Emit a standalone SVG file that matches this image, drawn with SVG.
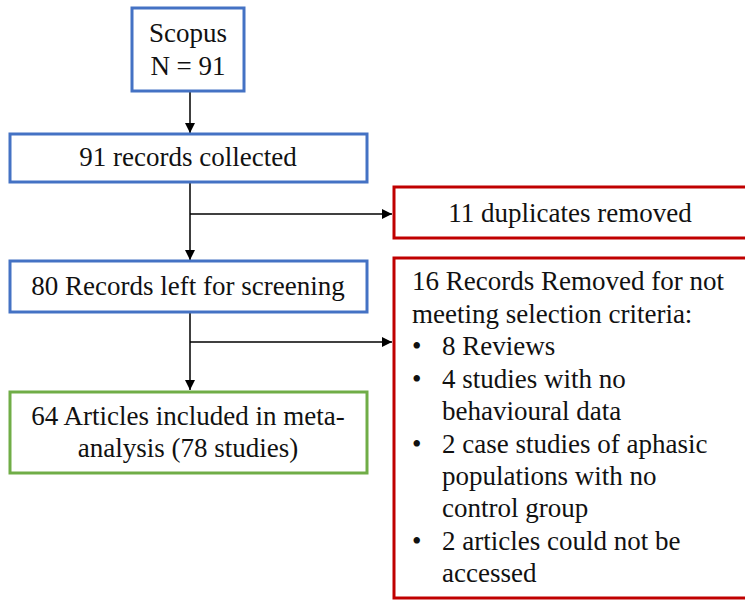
<svg xmlns="http://www.w3.org/2000/svg" width="745" height="601" viewBox="0 0 745 601">
<defs>
<marker id="ah" viewBox="0 0 10 10" refX="10" refY="5" markerWidth="10" markerHeight="10" markerUnits="userSpaceOnUse" orient="auto">
<path d="M0,0 L10,5 L0,10 z" fill="#000"/>
</marker>
<style>
.blue{fill:#fff;stroke:#4472C4;stroke-width:3}
.red{fill:#fff;stroke:#C00000;stroke-width:3}
.green{fill:#fff;stroke:#70AD47;stroke-width:3}
.conn{stroke:#000;stroke-width:1.5;fill:none}
</style>
</defs>
<rect width="745" height="601" fill="#fff"/>
<g id="connectors">
<path class="conn" d="M190,91 V133" marker-end="url(#ah)"/>
<path class="conn" d="M190,182 V260" marker-end="url(#ah)"/>
<path class="conn" d="M190,214 H392" marker-end="url(#ah)"/>
<path class="conn" d="M190,312 V390" marker-end="url(#ah)"/>
<path class="conn" d="M190,342 H392" marker-end="url(#ah)"/>
</g>
<g id="scopus">
<rect class="blue" x="132" y="8" width="112" height="83"/>
<text font-family="Times New Roman, Liberation Serif, serif" font-size="27" fill="#111" text-anchor="middle" x="188" y="42">Scopus</text>
<text font-family="Times New Roman, Liberation Serif, serif" font-size="27" fill="#111" text-anchor="middle" x="188" y="75">N = 91</text>
</g>
<g id="collected">
<rect class="blue" x="10" y="134" width="357" height="48"/>
<text font-family="Times New Roman, Liberation Serif, serif" font-size="27" fill="#111" text-anchor="middle" x="188" y="166">91 records collected</text>
</g>
<g id="duplicates">
<rect class="red" x="394" y="187" width="354" height="51"/>
<text font-family="Times New Roman, Liberation Serif, serif" font-size="27" fill="#111" text-anchor="middle" x="570" y="222">11 duplicates removed</text>
</g>
<g id="screening">
<rect class="blue" x="10" y="261" width="357" height="51"/>
<text font-family="Times New Roman, Liberation Serif, serif" font-size="27" fill="#111" text-anchor="middle" x="188" y="295">80 Records left for screening</text>
</g>
<g id="removed" font-family="Times New Roman, Liberation Serif, serif" font-size="27" fill="#111">
<rect class="red" x="394" y="258" width="354" height="340"/>
<text x="412" y="290">16 Records Removed for not</text>
<text x="412" y="323">meeting selection criteria:</text>
<text x="412" y="355">•</text><text x="442" y="355">8 Reviews</text>
<text x="412" y="388">•</text><text x="442" y="388">4 studies with no</text>
<text x="442" y="420">behavioural data</text>
<text x="412" y="453">•</text><text x="442" y="453">2 case studies of aphasic</text>
<text x="442" y="485">populations with no</text>
<text x="442" y="517">control group</text>
<text x="412" y="550">•</text><text x="442" y="550">2 articles could not be</text>
<text x="442" y="582">accessed</text>
</g>
<g id="included">
<rect class="green" x="10" y="392" width="357" height="81"/>
<text font-family="Times New Roman, Liberation Serif, serif" font-size="27" fill="#111" text-anchor="middle" x="188" y="425">64 Articles included in meta-</text>
<text font-family="Times New Roman, Liberation Serif, serif" font-size="27" fill="#111" text-anchor="middle" x="188" y="457">analysis (78 studies)</text>
</g>
</svg>
